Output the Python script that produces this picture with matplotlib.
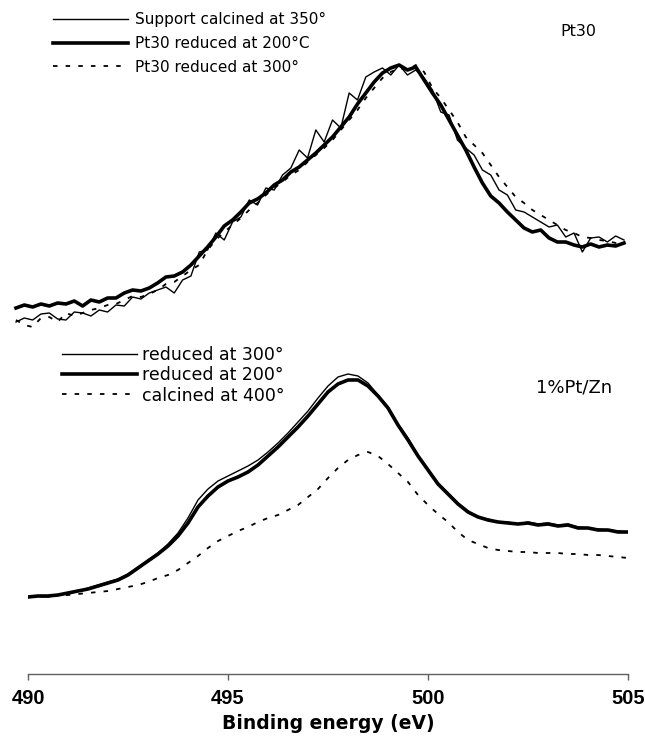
import numpy as np
import matplotlib
matplotlib.use("Agg")
import matplotlib.pyplot as plt

plt.rcParams['font.family'] = ['DejaVu Sans']

# ---- top panel: Pt30 (intensity, a.u.), sampled 489.7 -> 504.9 eV
top_range = (489.7, 504.9)
support_350 = [18, 22, 20, 26, 27, 21, 20, 28, 27, 24,
               30, 28, 35, 34, 43, 41, 47, 50, 53, 47,
               60, 64, 88, 90, 107, 100, 118, 123, 140, 135,
               152, 150, 165, 172, 190, 182, 210, 198, 220, 212,
               247, 240, 263, 268, 272, 265, 275, 265, 270, 262,
               250, 228, 225, 200, 192, 185, 170, 165, 150, 145,
               130, 128, 123, 118, 113, 115, 103, 107, 88, 102,
               103, 98, 104, 100]
pt30_red_200 = [32, 35, 33, 36, 34, 37, 36, 39, 34, 40,
                38, 42, 42, 47, 50, 49, 52, 57, 63, 64,
                68, 75, 84, 93, 103, 114, 120, 128, 137, 141,
                147, 155, 160, 168, 173, 180, 187, 195, 203, 213,
                223, 236, 247, 258, 267, 272, 275, 270, 273, 260,
                247, 235, 220, 205, 190, 173, 157, 144, 137, 128,
                120, 112, 108, 110, 102, 98, 98, 95, 93, 96,
                93, 95, 94, 97]
pt30_red_300 = [20, 15, 13, 22, 23, 18, 27, 24, 27, 30,
                32, 35, 36, 40, 44, 43, 46, 50, 56, 58,
                64, 70, 75, 90, 100, 108, 115, 122, 130, 137,
                145, 152, 158, 165, 170, 178, 185, 192, 200, 210,
                220, 230, 242, 252, 262, 268, 272, 270, 275, 268,
                252, 242, 230, 218, 203, 195, 187, 175, 163, 153,
                143, 137, 130, 125, 120, 115, 110, 107, 103, 102,
                100, 99, 97, 97]

# ---- bottom panel: 1%Pt/Zn, sampled 490 -> 505 eV every 0.25 eV
bottom_range = (490.0, 505.0)
red_300 = [77, 78, 77, 79, 80, 83, 86, 89, 92, 95,
           100, 107, 114, 121, 130, 141, 156, 174, 185, 193,
           198, 203, 208, 214, 222, 231, 241, 252, 263, 276,
           288, 297, 300, 298, 291, 279, 267, 250, 236, 219,
           205, 191, 181, 171, 163, 157, 155, 152, 152, 150,
           152, 150, 151, 149, 150, 147, 146, 145, 144, 143, 142]
red_200 = [77, 78, 78, 79, 81, 83, 85, 88, 91, 94,
           99, 106, 113, 120, 128, 138, 151, 167, 178, 187,
           193, 197, 202, 209, 218, 227, 237, 247, 258, 270,
           282, 290, 294, 294, 288, 278, 266, 249, 234, 218,
           204, 190, 180, 170, 162, 157, 154, 152, 151, 150,
           151, 149, 150, 148, 149, 146, 146, 144, 144, 142, 142]
calc_400 = [77, 77, 78, 78, 79, 80, 81, 82, 83, 85,
            87, 89, 92, 96, 99, 104, 111, 118, 126, 133,
            138, 143, 147, 152, 156, 159, 164, 169, 177, 185,
            196, 206, 214, 219, 222, 218, 210, 201, 192, 179,
            169, 160, 152, 142, 134, 130, 126, 124, 123, 122,
            122, 121, 121, 121, 120, 120, 119, 119, 118, 117, 116]

xticks = [490, 495, 500, 505]

fig = plt.figure(figsize=(6.45, 7.4), dpi=100)
W, H = 645, 740
ax_top = fig.add_axes([28 / W, (H - 340) / H, 600 / W, 290 / H])
ax_bot = fig.add_axes([28 / W, (H - 674) / H, 600 / W, 324 / H])

dash = (0, (2.5, 4.5))

e_top = np.linspace(top_range[0], top_range[1], len(support_350))
ax_top.plot(e_top, support_350, color='black', lw=1.0, clip_on=False,
            label='Support calcined at 350°')
ax_top.plot(np.linspace(*top_range, len(pt30_red_200)), pt30_red_200,
            color='black', lw=2.6, clip_on=False, label='Pt30 reduced at 200°C')
ax_top.plot(np.linspace(*top_range, len(pt30_red_300)), pt30_red_300,
            color='black', lw=1.3, ls=dash, clip_on=False,
            label='Pt30 reduced at 300°')
ax_top.set_xlim(490, 505)
ax_top.set_ylim(0, 290)
ax_top.axis('off')
ax_top.legend(loc='upper left', bbox_to_anchor=(53 / W, 1 - 12 / H),
              bbox_transform=fig.transFigure, frameon=False, fontsize=11,
              handlelength=4.9, handletextpad=0.45, labelspacing=0.58,
              borderpad=0, borderaxespad=0)
ax_top.text(578 / W, 1 - 31 / H, 'Pt30', transform=fig.transFigure,
            fontsize=11.5, ha='center', va='center')

e_bot = np.linspace(*bottom_range, len(red_300))
ax_bot.plot(e_bot, red_300, color='black', lw=1.0, label='reduced at 300°')
ax_bot.plot(np.linspace(*bottom_range, len(red_200)), red_200,
            color='black', lw=2.6, label='reduced at 200°')
ax_bot.plot(np.linspace(*bottom_range, len(calc_400)), calc_400,
            color='black', lw=1.3, ls=dash, label='calcined at 400°')
ax_bot.set_xlim(490, 505)
ax_bot.set_ylim(0, 324)
for s in ['top', 'right', 'left']:
    ax_bot.spines[s].set_visible(False)
ax_bot.spines['bottom'].set_color('#606060')
ax_bot.spines['bottom'].set_linewidth(1.0)
ax_bot.set_yticks([])
ax_bot.set_xticks(xticks)
ax_bot.set_xticklabels([str(t) for t in xticks], fontsize=14.5,
                       fontweight='bold', family='Liberation Sans')
ax_bot.tick_params(axis='x', direction='out', length=4, width=1,
                   color='#606060', pad=7)
ax_bot.set_xlabel('Binding energy (eV)', fontsize=13.5, fontweight='bold',
                  labelpad=4)
ax_bot.legend(loc='upper left', bbox_to_anchor=(62 / W, 1 - 346 / H),
              bbox_transform=fig.transFigure, frameon=False, fontsize=12.5,
              handlelength=4.3, handletextpad=0.3, labelspacing=0.13,
              borderpad=0, borderaxespad=0)
ax_bot.text(574 / W, 1 - 388 / H, '1%Pt/Zn', transform=fig.transFigure,
            fontsize=13, ha='center', va='center')

fig.savefig('out.png', dpi=100)
